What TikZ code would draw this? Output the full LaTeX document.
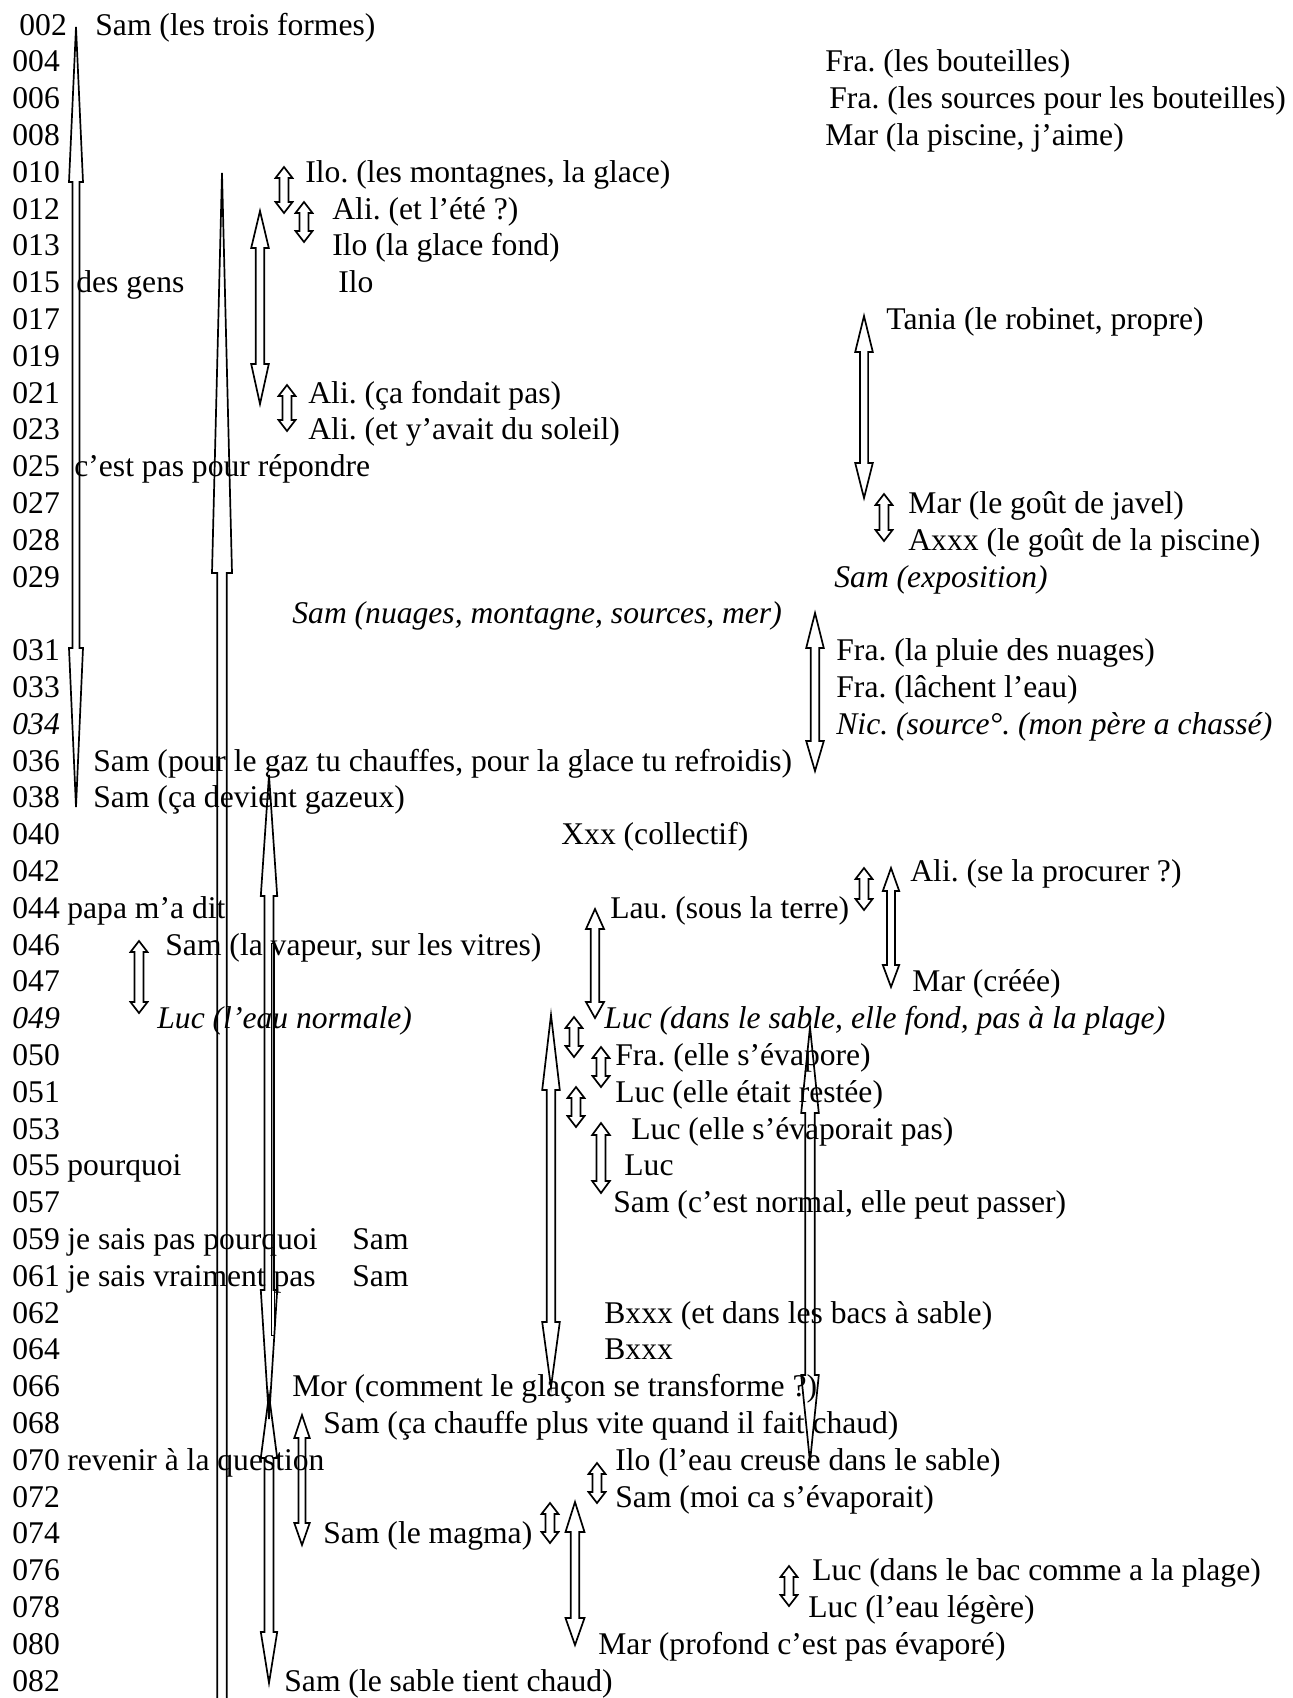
\documentclass[tikz,border=0pt]{standalone}
\usepackage{fontspec}
\setmainfont{Liberation Serif}
\frenchspacing
\newcommand{\txtsize}{\fontsize{15.8}{19}\selectfont}
% hollow up-down block arrow: x, top tip, bottom tip, top head, bottom head, head half width, shaft half width
\newcommand{\dblarrow}[7]{%
  \draw[arr] (#1,#2) -- ({#1+#6},{#2+#4}) -- ({#1+#7},{#2+#4}) -- ({#1+#7},{#3-#5})
    -- ({#1+#6},{#3-#5}) -- (#1,#3) -- ({#1-#6},{#3-#5}) -- ({#1-#7},{#3-#5})
    -- ({#1-#7},{#2+#4}) -- ({#1-#6},{#2+#4}) -- cycle;}
\tikzset{
  txt/.style={anchor=base west, inner sep=0pt, font=\txtsize},
  emph/.style={txt, font=\txtsize\itshape},
  arr/.style={line width=0.85pt, line join=miter}
}
\begin{document}
\begin{tikzpicture}[x=0.5pt, y=-0.5pt]
			\useasboundingbox (0,0) rectangle (1292,1698);
			\clip (0,0) rectangle (1292,1698);
			
			% Draw the line numbers
			\node[txt] (n002) at (19,35) {002};
			\foreach \i/\l in {1/004,2/006,3/008,4/010,5/012,6/013,7/015,8/017,9/019,10/021,11/023,12/025,13/027,14/028,15/029,17/031,18/033,20/036,21/038,22/040,23/042,24/044,25/046,26/047,28/050,29/051,30/053,31/055,32/057,33/059,34/061,35/062,36/064,37/066,38/068,39/070,40/072,41/074,42/076,43/078,44/080,45/082}
			{
				\node[txt] (n\l) at (12,{35+36.8*\i}) {\l};
			}
			\node[emph] (n034) at (12,{35+36.8*19}) {034};
			\node[emph] (n049) at (12,{35+36.8*27}) {049};
			
			% Draw the left column
			\node[txt] (c015) at (76,{35+36.8*7}) {des gens};
			\node[txt] (c025) at (74,{35+36.8*12}) {c’est pas pour répondre};
			\node[txt] (c044) at (67,{35+36.8*24}) {papa m’a dit};
			\node[txt] (c055) at (67,{35+36.8*31}) {pourquoi};
			\node[txt] (c059) at (67,{35+36.8*33}) {je sais pas pourquoi};
			\node[txt] (c061) at (67,{35+36.8*34}) {je sais vraiment pas};
			\node[txt] (c070) at (67,{35+36.8*39}) {revenir à la question};
			
			% Draw the turns
			\node[txt] (t002) at (95,35) {Sam (les trois formes)};
			\node[txt] (t004) at (825,{35+36.8*1}) {Fra. (les bouteilles)};
			\node[txt] (t006) at (829,{35+36.8*2}) {Fra. (les sources pour les bouteilles)};
			\node[txt] (t008) at (825,{35+36.8*3}) {Mar (la piscine, j’aime)};
			\node[txt] (t010) at (305,{35+36.8*4}) {Ilo. (les montagnes, la glace)};
			\node[txt] (t012) at (332,{35+36.8*5}) {Ali. (et l’été ?)};
			\node[txt] (t013) at (332,{35+36.8*6}) {Ilo (la glace fond)};
			\node[txt] (t015) at (338,{35+36.8*7}) {Ilo};
			\node[txt] (t017) at (886,{35+36.8*8}) {Tania (le robinet, propre)};
			\node[txt] (t021) at (308,{35+36.8*10}) {Ali. (ça fondait pas)};
			\node[txt] (t023) at (308,{35+36.8*11}) {Ali. (et y’avait du soleil)};
			\node[txt] (t027) at (908,{35+36.8*13}) {Mar (le goût de javel)};
			\node[txt] (t028) at (908,{35+36.8*14}) {Axxx (le goût de la piscine)};
			\node[emph] (t029) at (834,{35+36.8*15}) {Sam (exposition)};
			\node[emph] (t030) at (292,{35+36.8*16}) {Sam (nuages, montagne, sources, mer)};
			\node[txt] (t031) at (836,{35+36.8*17}) {Fra. (la pluie des nuages)};
			\node[txt] (t033) at (836,{35+36.8*18}) {Fra. (lâchent l’eau)};
			\node[emph] (t034) at (836,{35+36.8*19}) {Nic. (source°. (mon père a chassé)};
			\node[txt] (t036) at (93,{35+36.8*20}) {Sam (pour le gaz tu chauffes, pour la glace tu refroidis)};
			\node[txt] (t038) at (93,{35+36.8*21}) {Sam (ça devient gazeux)};
			\node[txt] (t040) at (561,{35+36.8*22}) {Xxx (collectif)};
			\node[txt] (t042) at (910,{35+36.8*23}) {Ali. (se la procurer ?)};
			\node[txt] (t044) at (610,{35+36.8*24}) {Lau. (sous la terre)};
			\node[txt] (t046) at (165,{35+36.8*25}) {Sam (la vapeur, sur les vitres)};
			\node[txt] (t047) at (912,{35+36.8*26}) {Mar (créée)};
			\node[emph] (t049a) at (157,{35+36.8*27}) {Luc (l’eau normale)};
			\node[emph] (t049b) at (604,{35+36.8*27}) {Luc (dans le sable, elle fond, pas à la plage)};
			\node[txt] (t050) at (615,{35+36.8*28}) {Fra. (elle s’évapore)};
			\node[txt] (t051) at (615,{35+36.8*29}) {Luc (elle était restée)};
			\node[txt] (t053) at (631,{35+36.8*30}) {Luc (elle s’évaporait pas)};
			\node[txt] (t055) at (624,{35+36.8*31}) {Luc};
			\node[txt] (t057) at (613,{35+36.8*32}) {Sam (c’est normal, elle peut passer)};
			\node[txt] (t059) at (352,{35+36.8*33}) {Sam};
			\node[txt] (t061) at (352,{35+36.8*34}) {Sam};
			\node[txt] (t062) at (604,{35+36.8*35}) {Bxxx (et dans les bacs à sable)};
			\node[txt] (t064) at (604,{35+36.8*36}) {Bxxx};
			\node[txt] (t066) at (292,{35+36.8*37}) {Mor (comment le glaçon se transforme ?)};
			\node[txt] (t068) at (323,{35+36.8*38}) {Sam (ça chauffe plus vite quand il fait chaud)};
			\node[txt] (t070) at (615,{35+36.8*39}) {Ilo (l’eau creuse dans le sable)};
			\node[txt] (t072) at (615,{35+36.8*40}) {Sam (moi ca s’évaporait)};
			\node[txt] (t074) at (323,{35+36.8*41}) {Sam (le magma)};
			\node[txt] (t076) at (812,{35+36.8*42}) {Luc (dans le bac comme a la plage)};
			\node[txt] (t078) at (808,{35+36.8*43}) {Luc (l’eau légère)};
			\node[txt] (t080) at (598,{35+36.8*44}) {Mar (profond c’est pas évaporé)};
			\node[txt] (t082) at (284,{35+36.8*45}) {Sam (le sable tient chaud)};
			
			% Draw the long arrows
			\dblarrow{76}{27}{807}{155}{159}{7}{3.5}
			\dblarrow{222}{173}{1760}{400}{0}{10}{4.8}
			\dblarrow{269}{775}{1419}{121}{129}{8.2}{4.5}
			\dblarrow{269}{1395}{1683}{63}{51}{8.2}{4.5}
			\draw[line width=0.4pt] (271,943) rectangle (274,1335);
			\dblarrow{551}{1015}{1387}{75}{65}{8.8}{4.2}
			\dblarrow{810}{1027}{1462}{86}{87}{8.8}{4.7}
			
			% Draw the medium arrows
			\dblarrow{260}{211}{404}{37}{40}{8.8}{4.2}
			\dblarrow{864}{316}{498}{36}{35}{8.8}{4.1}
			\dblarrow{815}{613}{771}{35}{30}{8.8}{4.2}
			\dblarrow{595}{909}{1018}{20}{16}{9}{4.3}
			\dblarrow{891}{868}{987}{23}{22}{8.2}{4}
			\dblarrow{601}{1123}{1193}{12}{12}{8.8}{4.5}
			\dblarrow{302}{1415}{1545}{23}{22}{7.7}{3.5}
			\dblarrow{575}{1502}{1645}{30}{27}{9.5}{4.3}
			
			% Draw the short arrows
			\foreach \x/\t/\b in {284/167/213, 304/202/242, 287/385/431, 884/494/541, 139/941/1013, 864/868/910, 574/1017/1057, 601/1047/1087, 576/1087/1127, 550/1503/1543, 597/1463/1503, 789/1566/1606}
			{
				\dblarrow{\x}{\t}{\b}{11}{11}{8.5}{4.5}
			}
			
		\end{tikzpicture}
\end{document}
